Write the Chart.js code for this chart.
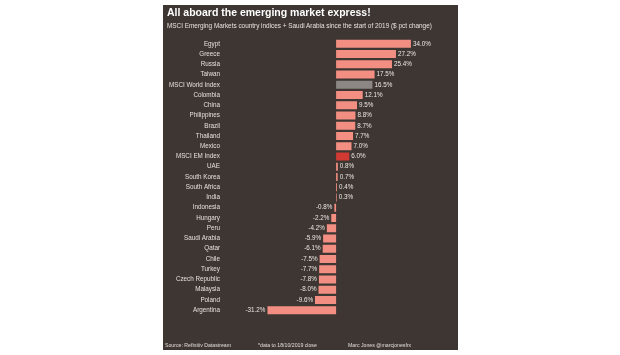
<!DOCTYPE html>
<html>
<head>
<meta charset="utf-8">
<script src="https://cdn.jsdelivr.net/npm/chart.js@4.4.0/dist/chart.umd.min.js"></script>
<style>
  html, body { margin:0; padding:0; background:#ffffff; width:620px; height:355px; overflow:hidden; }
  #panel { position:absolute; left:163px; top:5px; width:295px; height:345px; background:#3d3632; font-family:"Liberation Sans", Arial, sans-serif; }
  #panel canvas { position:absolute; left:0; top:0; }
  .t { position:absolute; color:#ffffff; white-space:nowrap; }
  #title { left:4px; top:1px; font-size:10.5px; font-weight:bold; }
  #sub { left:4px; top:17px; font-size:6.4px; color:#e8e2de; }
  .f { top:337px; font-size:5.2px; color:#e0dad6; }
</style>
</head>
<body>
<div id="panel">
  <canvas id="c" width="295" height="345"></canvas>
  <div class="t" id="title">All aboard the emerging market express!</div>
  <div class="t" id="sub">MSCI Emerging Markets country indices + Saudi Arabia since the start of 2019 ($ pct change)</div>
  <div class="t f" style="left:2px">Source: Refinitiv Datastream</div>
  <div class="t f" style="left:95px">*data to 18/10/2019 close</div>
  <div class="t f" style="left:185px">Marc Jones @marcjonesfrx</div>
</div>
<script>
const categories = ["Egypt","Greece","Russia","Taiwan","MSCI World Index","Colombia","China","Philippines","Brazil","Thailand","Mexico","MSCI EM Index","UAE","South Korea","South Africa","India","Indonesia","Hungary","Peru","Saudi Arabia","Qatar","Chile","Turkey","Czech Republic","Malaysia","Poland","Argentina"];
const values = [34.0,27.2,25.4,17.5,16.5,12.1,9.5,8.8,8.7,7.7,7.0,6.0,0.8,0.7,0.4,0.3,-0.8,-2.2,-4.2,-5.9,-6.1,-7.5,-7.7,-7.8,-8.0,-9.6,-31.2];

const colors = categories.map(c => c === "MSCI World Index" ? "#8c8684" : (c === "MSCI EM Index" ? "#d13a33" : "#f38f82"));

const valueLabels = {
  id: 'valueLabels',
  afterDatasetsDraw(chart) {
    const ctx = chart.ctx;
    const meta = chart.getDatasetMeta(0);
    ctx.save();
    ctx.font = '6.3px "Liberation Sans", Arial, sans-serif';
    ctx.fillStyle = '#ece6e2';
    ctx.textBaseline = 'middle';
    meta.data.forEach((bar, i) => {
      const v = values[i];
      const txt = v.toFixed(1) + '%';
      if (v >= 0) { ctx.textAlign = 'left'; ctx.fillText(txt, bar.x + 2, bar.y); }
      else { ctx.textAlign = 'right'; ctx.fillText(txt, bar.x - 2, bar.y); }
    });
    ctx.restore();
  }
};

new Chart(document.getElementById('c'), {
  type: 'bar',
  data: {
    labels: categories,
    datasets: [{
      data: values,
      backgroundColor: colors,
      borderWidth: 0,
      barPercentage: 0.78,
      categoryPercentage: 1.0
    }]
  },
  options: {
    indexAxis: 'y',
    responsive: false,
    animation: false,
    events: [],
    layout: { padding: { top: 33.7, bottom: 34.7, left: 0, right: 13 } },
    plugins: { legend: { display: false }, tooltip: { enabled: false }, title: { display: false } },
    scales: {
      x: { display: false, min: -50.5, max: 49.5 },
      y: {
        grid: { display: false, drawTicks: false },
        border: { display: false },
        ticks: { color: '#e6e0dc', font: { family: '"Liberation Sans", Arial, sans-serif', size: 6.3 }, padding: 5, autoSkip: false },
        afterFit(scale) { scale.width = 62; }
      }
    }
  },
  plugins: [valueLabels]
});
</script>
</body>
</html>
